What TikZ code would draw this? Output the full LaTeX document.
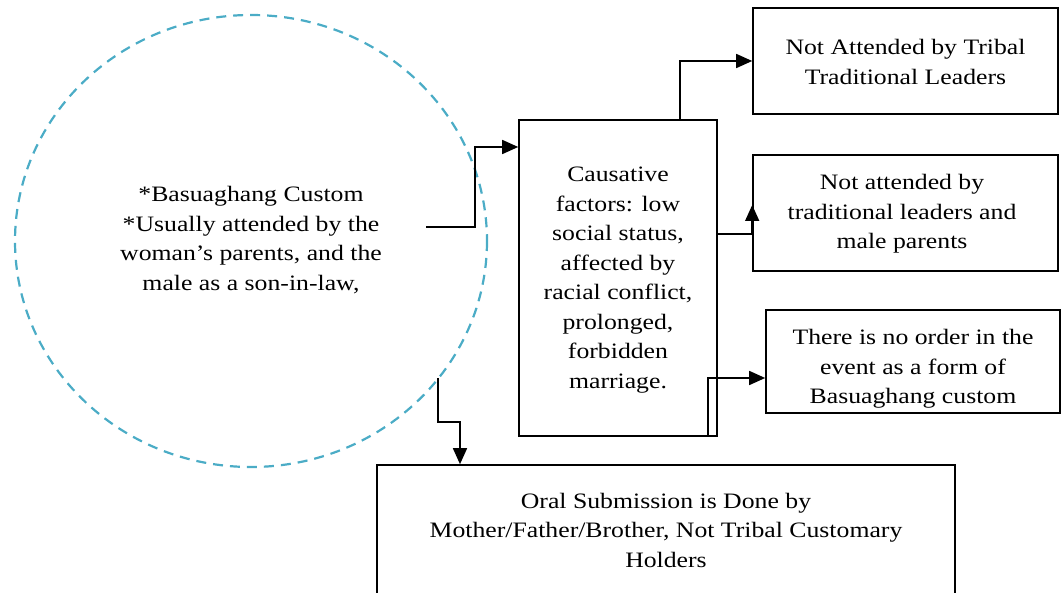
\documentclass[tikz,border=0pt]{standalone}
\usepackage{fontspec}
\setmainfont[FakeStretch=1.17]{Liberation Serif}
\usetikzlibrary{arrows.meta}
\definecolor{dashteal}{HTML}{4BACC6}
\tikzset{
  box/.style={draw=black, line width=1.6pt, rectangle, inner sep=0pt},
  txt/.style={align=center, font=\fontsize{22}{29.5}\selectfont, inner sep=0pt},
  conn/.style={draw=black, line width=1.6pt, -{Triangle[length=16pt,width=14pt]}},
  plain/.style={draw=black, line width=1.6pt}
}
\begin{document}
\begin{tikzpicture}[x=1pt,y=-1pt]
\useasboundingbox (0,0) rectangle (1061,593);
% ellipse
\draw[draw=dashteal, dash pattern=on 10pt off 7pt, line width=2.2pt] (251,241) ellipse [x radius=236, y radius=226];
\coordinate (circ) at (251,241);
\node[txt] (circtext) at (251,240) {*Basuaghang Custom\\*Usually attended by the\\woman's parents, and the\\male as a son-in-law,};
% central box
\node[box, minimum width=198pt, minimum height=316pt] (cause) at (618,278) {};
\node[txt] (causetext) at (618,280) {Causative\\factors: low\\social status,\\affected by\\racial conflict,\\prolonged,\\forbidden\\marriage.};
% right boxes
\node[box, minimum width=305pt, minimum height=106pt] (b1) at (905.5,61) {};
\node[txt] (b1text) at (905.5,62) {Not Attended by Tribal\\Traditional Leaders};
\node[box, minimum width=305pt, minimum height=116pt] (b2) at (905.5,213) {};
\node[txt] (b2text) at (902,214) {Not attended by\\traditional leaders and\\male parents};
\node[box, minimum width=294pt, minimum height=103pt] (b3) at (913,361.5) {};
\begin{scope}
\clip (b3.north west) rectangle ([yshift=-8pt]b3.south east);
\node[txt] (b3text) at (913,369) {There is no order in the\\event as a form of\\Basuaghang custom};
\end{scope}
% bottom box
\node[box, minimum width=578pt, minimum height=150pt] (b4) at (666,540) {};
\node[txt] (b4text) at (666,530) {Oral Submission is Done by\\Mother/Father/Brother, Not Tribal Customary\\Holders};
% connector coordinates
\coordinate (c1) at (426,227);
\coordinate (c2) at (438,378);
\coordinate (c3) at (650,436);
% connectors
\draw[conn] (c1) -- (475,227) |- (cause.west |- 0,147);
\draw[conn] (cause.north -| 680,0) |- (b1.west);
\draw[conn] (cause.east |- 0,234) -| (b2.west |- 0,205);
\draw[conn] (c3) -- (708,436) |- (b3.west |- 0,378);
\draw[conn] (c2) |- (460,422) -- (b4.north -| 460,0);
\end{tikzpicture}
\end{document}
